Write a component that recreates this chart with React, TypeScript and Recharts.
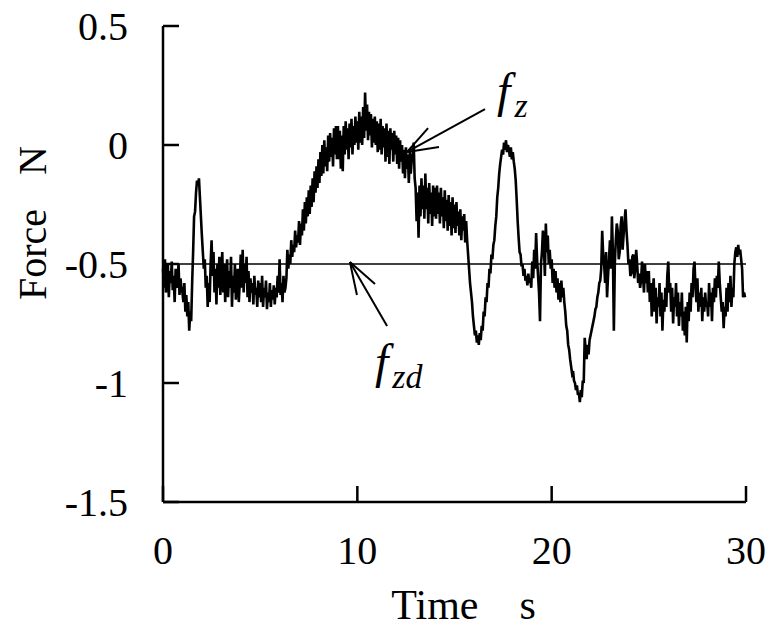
import React from "react";
import { LineChart, Line, XAxis, YAxis, ReferenceLine, ReferenceDot } from "recharts";

const fz0to5 = [
  -0.52, -0.6, -0.48, -0.62, -0.55, -0.5, -0.64, -0.53, -0.58, -0.49, -0.61, -0.55, -0.66, -0.52, -0.6, -0.57, -0.5, -0.63, -0.56, -0.6,
  -0.62, -0.66, -0.58, -0.7, -0.63, -0.72, -0.66, -0.78, -0.7, -0.74, -0.58, -0.45, -0.3, -0.28, -0.2, -0.15, -0.17, -0.14, -0.22, -0.3,
  -0.38, -0.45, -0.52, -0.48, -0.6, -0.55, -0.68, -0.58, -0.66, -0.5, -0.4, -0.55, -0.45, -0.62, -0.52, -0.67, -0.5, -0.6, -0.47, -0.63,
  -0.55, -0.45, -0.62, -0.5, -0.66, -0.56, -0.48, -0.64, -0.53, -0.6, -0.47, -0.68, -0.55, -0.62, -0.5, -0.65, -0.57, -0.52, -0.66, -0.58,
  -0.46, -0.6, -0.44, -0.62, -0.5, -0.58, -0.47, -0.64, -0.53, -0.66, -0.56, -0.62, -0.58, -0.67, -0.55, -0.63, -0.6, -0.68, -0.57, -0.64,
];
const fz5to10 = [
  -0.58, -0.66, -0.55, -0.68, -0.6, -0.64, -0.57, -0.69, -0.62, -0.66, -0.58, -0.68, -0.61, -0.65, -0.59, -0.67, -0.6, -0.64, -0.55, -0.62,
  -0.48, -0.63, -0.58, -0.66, -0.55, -0.62, -0.6, -0.56, -0.44, -0.52, -0.46, -0.5, -0.4, -0.47, -0.42, -0.45, -0.36, -0.43, -0.38, -0.41,
  -0.32, -0.42, -0.33, -0.38, -0.27, -0.36, -0.24, -0.33, -0.22, -0.3, -0.19, -0.29, -0.17, -0.26, -0.14, -0.24, -0.11, -0.2, -0.09, -0.18,
  -0.06, -0.16, -0.03, -0.13, 0.0, -0.12, 0.02, -0.09, -0.01, -0.11, 0.04, -0.07, 0.05, -0.05, 0.03, -0.09, 0.07, -0.04, 0.08, -0.06,
  0.08, -0.06, 0.06, -0.1, 0.04, -0.11, 0.08, -0.04, 0.1, -0.02, 0.07, -0.06, 0.09, -0.01, 0.11, -0.04, 0.08, 0.0, 0.12, 0.01,
];
const fz10to15 = [
  0.1, -0.02, 0.14, 0.01, 0.12, 0.0, 0.16, 0.03, 0.22, 0.06, 0.17, 0.02, 0.14, 0.04, 0.13, -0.01, 0.11, 0.01, 0.12, 0.0,
  0.1, -0.03, 0.09, -0.02, 0.11, -0.04, 0.08, -0.01, 0.07, -0.07, 0.09, -0.05, 0.06, -0.08, 0.07, -0.02, 0.05, -0.07, 0.06, -0.04,
  0.04, -0.08, 0.03, -0.1, 0.02, -0.07, 0.0, -0.12, -0.02, -0.14, -0.01, -0.1, -0.04, -0.16, -0.03, -0.12, -0.06, -0.04, 0.01, -0.14,
  -0.18, -0.32, -0.2, -0.39, -0.17, -0.3, -0.14, -0.27, -0.17, -0.31, -0.12, -0.27, -0.18, -0.33, -0.16, -0.29, -0.2, -0.34, -0.17, -0.3,
  -0.18, -0.31, -0.17, -0.29, -0.2, -0.33, -0.18, -0.3, -0.22, -0.35, -0.19, -0.32, -0.23, -0.36, -0.21, -0.34, -0.24, -0.38, -0.22, -0.35,
];
const fz15to20 = [
  -0.25, -0.37, -0.24, -0.34, -0.28, -0.38, -0.27, -0.4, -0.3, -0.36, -0.29, -0.41, -0.32, -0.4, -0.46, -0.52, -0.58, -0.62, -0.66, -0.72,
  -0.76, -0.8, -0.78, -0.83, -0.8, -0.84, -0.79, -0.82, -0.76, -0.78, -0.7, -0.72, -0.64, -0.66, -0.58, -0.6, -0.52, -0.54, -0.46, -0.48,
  -0.42, -0.4, -0.34, -0.3, -0.22, -0.18, -0.12, -0.08, -0.05, -0.02, -0.04, 0.01, -0.02, 0.02, -0.03, 0.0, -0.02, -0.05, -0.01, -0.06,
  -0.03, -0.07, -0.1, -0.15, -0.23, -0.32, -0.39, -0.45, -0.46, -0.51, -0.5, -0.55, -0.52, -0.57, -0.55, -0.59, -0.54, -0.58, -0.56, -0.6,
  -0.49, -0.56, -0.44, -0.52, -0.37, -0.48, -0.55, -0.62, -0.74, -0.5, -0.45, -0.36, -0.42, -0.55, -0.33, -0.45, -0.38, -0.5, -0.44, -0.52,
];
const fz20to25 = [
  -0.48, -0.58, -0.52, -0.6, -0.53, -0.62, -0.56, -0.65, -0.58, -0.66, -0.57, -0.64, -0.6, -0.66, -0.7, -0.76, -0.78, -0.84, -0.86, -0.9,
  -0.93, -0.96, -0.95, -0.99, -1.0, -1.03, -1.01, -1.05, -1.04, -1.08, -1.03, -1.06, -0.99, -1.0, -0.81, -0.86, -0.9, -0.84, -0.88, -0.82,
  -0.8, -0.78, -0.76, -0.74, -0.72, -0.69, -0.68, -0.64, -0.62, -0.58, -0.57, -0.52, -0.36, -0.46, -0.5, -0.58, -0.45, -0.64, -0.55, -0.48,
  -0.4, -0.52, -0.3, -0.45, -0.78, -0.5, -0.4, -0.33, -0.36, -0.48, -0.45, -0.34, -0.3, -0.44, -0.38, -0.32, -0.27, -0.36, -0.42, -0.5,
  -0.48, -0.55, -0.54, -0.47, -0.46, -0.56, -0.52, -0.44, -0.5, -0.58, -0.54, -0.6, -0.57, -0.49, -0.55, -0.62, -0.5, -0.58, -0.53, -0.62,
];
const fz25to30 = [
  -0.53, -0.66, -0.58, -0.72, -0.62, -0.56, -0.7, -0.6, -0.75, -0.64, -0.68, -0.58, -0.72, -0.62, -0.78, -0.65, -0.7, -0.6, -0.68, -0.55,
  -0.49, -0.62, -0.58, -0.7, -0.6, -0.75, -0.64, -0.68, -0.58, -0.72, -0.62, -0.76, -0.66, -0.72, -0.62, -0.78, -0.7, -0.8, -0.68, -0.83,
  -0.66, -0.74, -0.62, -0.7, -0.58, -0.64, -0.52, -0.49, -0.6, -0.66, -0.56, -0.7, -0.62, -0.68, -0.6, -0.74, -0.64, -0.7, -0.62, -0.68,
  -0.66, -0.72, -0.58, -0.68, -0.62, -0.74, -0.6, -0.66, -0.56, -0.64, -0.55, -0.6, -0.49, -0.58, -0.64, -0.7, -0.66, -0.77, -0.68, -0.72,
  -0.6, -0.7, -0.58, -0.66, -0.55, -0.68, -0.6, -0.64, -0.5, -0.45, -0.43, -0.47, -0.42, -0.46, -0.44, -0.48, -0.52, -0.64, -0.62, -0.64,
];

const SAMPLE_STEP = 0.05;
const fzd = -0.5;
const xTicks = [0, 10, 20, 30];
const yTicks = [-1.5, -1, -0.5, 0, 0.5];

const fz = [...fz0to5, ...fz5to10, ...fz10to15, ...fz15to20, ...fz20to25, ...fz25to30];
const data = fz.map((v, i) => ({ t: +(i * SAMPLE_STEP).toFixed(2), fz: v }));

// arrow annotations in data units
const fzArrow = { tail: { x: 16.57, y: 0.151 }, tip: { x: 12.56, y: -0.029 }, w1: { x: 13.64, y: 0.071 }, w2: { x: 14.2, y: -0.008 } };
const fzdArrow = { tail: { x: 11.53, y: -0.761 }, tip: { x: 9.62, y: -0.492 }, w1: { x: 9.98, y: -0.63 }, w2: { x: 10.91, y: -0.584 } };

const FONT = '"Liberation Serif", "Times New Roman", serif';

const XTick = (props: any) => {
  const { x, y, payload } = props;
  return (
    <g>
      <line x1={x} y1={y} x2={x} y2={y - 16} stroke="#000" strokeWidth={2.5} />
      <text x={x} y={y + 48} textAnchor="middle" dominantBaseline="central" fontSize={40} fontFamily={FONT} fill="#000">
        {payload.value}
      </text>
    </g>
  );
};

const YTick = (props: any) => {
  const { x, y, payload } = props;
  return (
    <g>
      <line x1={x} y1={y} x2={x + 16} y2={y} stroke="#000" strokeWidth={2.5} />
      <text x={x - 35} y={y} textAnchor="end" dominantBaseline="central" fontSize={40} fontFamily={FONT} fill="#000">
        {payload.value}
      </text>
    </g>
  );
};

const XTitle = (props: any) => {
  const { viewBox } = props;
  const cx = viewBox.x + viewBox.width / 2;
  const ty = viewBox.y + 103;
  return (
    <g fontFamily={FONT} fontSize={42} fill="#000">
      <text x={cx + 24} y={ty} textAnchor="end" dominantBaseline="central">Time</text>
      <text x={cx + 65} y={ty} textAnchor="start" dominantBaseline="central">s</text>
    </g>
  );
};

const YTitle = () => (
  <g fontFamily={FONT} fontSize={40} fill="#000">
    <text x={32} y={300} transform="rotate(-90 32 300)" textAnchor="start" dominantBaseline="central">Force</text>
    <text x={32} y={175} transform="rotate(-90 32 175)" textAnchor="start" dominantBaseline="central">N</text>
  </g>
);

const SubLabel = (main: string, sub: string) => (props: any) => {
  const { viewBox } = props;
  return (
    <text x={viewBox.x} y={viewBox.y} fontFamily={FONT} fontStyle="italic" fill="#000">
      <tspan fontSize={48}>{main}</tspan>
      <tspan fontSize={34} dx={4} dy={10}>{sub}</tspan>
    </text>
  );
};

const arrowSegs = (a: any) => [
  [a.tail, a.tip],
  [a.w1, a.tip],
  [a.w2, a.tip],
];

export default function App() {
  return (
    <div style={{ position: "absolute", left: 0, top: 0 }}>
      <LineChart width={767} height={637} data={data} margin={{ top: 26, right: 21, bottom: 35, left: 0 }}>
        <XAxis
          dataKey="t"
          type="number"
          domain={[0, 30]}
          ticks={xTicks}
          tick={<XTick />}
          tickLine={false}
          tickSize={0}
          tickMargin={0}
          height={100}
          axisLine={{ stroke: "#000", strokeWidth: 2.5 }}
          label={{ content: <XTitle /> }}
        />
        <YAxis
          type="number"
          domain={[-1.5, 0.5]}
          ticks={yTicks}
          tick={<YTick />}
          tickLine={false}
          tickSize={0}
          tickMargin={0}
          width={163}
          axisLine={{ stroke: "#000", strokeWidth: 2.5 }}
          label={{ content: <YTitle /> }}
        />
        <ReferenceLine y={fzd} stroke="#000" strokeWidth={1.5} />
        <Line dataKey="fz" stroke="#000" strokeWidth={2.6} dot={false} type="linear" isAnimationActive={false} />
        {[...arrowSegs(fzArrow), ...arrowSegs(fzdArrow)].map((s, i) => (
          <ReferenceLine key={i} segment={s} stroke="#000" strokeWidth={2} />
        ))}
        <ReferenceDot x={17.19} y={0.16} r={0} stroke="none" label={{ content: SubLabel("f", "z") }} />
        <ReferenceDot x={10.91} y={-0.979} r={0} stroke="none" label={{ content: SubLabel("f", "zd") }} />
      </LineChart>
    </div>
  );
}
